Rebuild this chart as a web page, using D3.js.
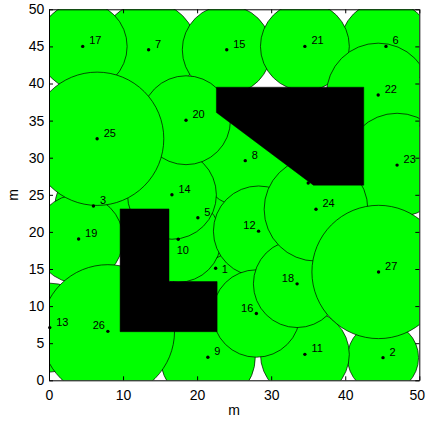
<!DOCTYPE html>
<html><head><meta charset="utf-8">
<script src="https://cdn.jsdelivr.net/npm/d3@7"></script>
<style>body{margin:0;background:#fff}text{font-family:"Liberation Sans",Arial,Helvetica,sans-serif}</style>
</head><body>
<svg id="c" width="426" height="421"></svg>
<script>
// ---- data ----
const nodeIds = [1,2,3,4,5,6,7,8,9,10,11,12,13,14,15,16,17,18,19,20,21,22,23,24,25,26,27];
const nodeX = [22.5,45.1,6.0,35.0,20.1,45.5,13.45,26.5,21.45,17.45,34.55,28.3,0.1,16.6,24.0,28.0,4.55,33.5,4.0,18.5,34.55,44.45,47.0,36.05,6.5,7.95,44.5];
const nodeY = [15.1,3.05,23.5,26.6,21.9,45.0,44.55,29.6,3.1,19.0,3.5,20.1,7.1,25.0,44.55,9.0,45.0,13.0,19.05,35.05,45.0,38.45,29.0,23.05,32.55,6.6,14.6];
const nodeRange = [6,4.8,5.2,6,6,6.2,6.5,6.3,6.4,5.8,6,6.1,6,6,6,5.9,6,5.9,6,6,6,7,7,7,9,9,9];
const obstacleL = [[9.6,23.1],[16.2,23.1],[16.2,13.3],[22.7,13.3],[22.7,6.55],[9.6,6.55]];
const obstacleQ = [[22.6,39.5],[42.5,39.5],[42.5,26.3],[35.7,26.3],[22.6,36.1]];
const xTicks = [0,10,20,30,40,50];
const yTicks = [0,5,10,15,20,25,30,35,40,45,50];
const xLabel = "m", yLabel = "m";
// label placement (style): default upper-right
const labelPlace = {10:"below", 12:"left", 16:"left", 18:"left", 26:"left", 1:"lowright"};

// ---- drawing ----
const svg = d3.select("#c");
const x = d3.scaleLinear().domain([0,50]).range([49,419.3]);
const y = d3.scaleLinear().domain([0,50]).range([380.3,9.3]);
const nodes = nodeIds.map((id,i)=>({id, x:nodeX[i], y:nodeY[i], r:nodeRange[i]}));

svg.append("defs").append("clipPath").attr("id","plotclip")
  .append("rect").attr("x",x(0)).attr("y",y(50)).attr("width",x(50)-x(0)).attr("height",y(0)-y(50));

const plot = svg.append("g").attr("clip-path","url(#plotclip)");
plot.selectAll("circle.cov").data(nodes).join("circle").attr("class","cov")
  .attr("cx",d=>x(d.x)).attr("cy",d=>y(d.y)).attr("r",d=>x(d.r)-x(0))
  .attr("fill","#00ff00").attr("stroke","#000").attr("stroke-width",0.7);

const line = d3.line().x(d=>x(d[0])).y(d=>y(d[1]));
[obstacleL, obstacleQ].forEach(p=>{
  plot.append("path").attr("d", line(p)+"Z").attr("fill","#000").attr("stroke","#000").attr("stroke-width",0.5);
});

svg.append("g").selectAll("circle").data(nodes).join("circle")
  .attr("cx",d=>x(d.x)).attr("cy",d=>y(d.y)).attr("r",1.7).attr("fill","#000");

svg.append("g").selectAll("text").data(nodes).join("text")
  .attr("font-size","11px").attr("fill","#000")
  .each(function(d){
    const t = d3.select(this).text(d.id);
    const p = labelPlace[d.id];
    const cx = x(d.x), cy = y(d.y);
    if (p==="left") t.attr("x",cx-3).attr("y",cy-2).attr("text-anchor","end");
    else if (p==="below") t.attr("x",cx-1.6).attr("y",cy+14.4);
    else if (p==="lowright") t.attr("x",cx+6).attr("y",cy+5);
    else t.attr("x",cx+6.5).attr("y",cy-2);
  });

// axes
const axes = svg.append("g");
const fs = "14px";
const gb = axes.append("g").attr("transform",`translate(0,${y(0)})`)
  .call(d3.axisBottom(x).tickValues(xTicks).tickSizeInner(-4).tickSizeOuter(0).tickPadding(9.7));
const gl = axes.append("g").attr("transform",`translate(${x(0)},0)`)
  .call(d3.axisLeft(y).tickValues(yTicks).tickSizeInner(-4).tickSizeOuter(0).tickPadding(4.7));
const gt = axes.append("g").attr("transform",`translate(0,${y(50)})`)
  .call(d3.axisTop(x).tickValues(xTicks).tickSizeInner(-4).tickSizeOuter(0).tickFormat(""));
const gr = axes.append("g").attr("transform",`translate(${x(50)},0)`)
  .call(d3.axisRight(y).tickValues(yTicks).tickSizeInner(-4).tickSizeOuter(0).tickFormat(""));
[gb,gl,gt,gr].forEach(g=>{
  g.selectAll("text").attr("font-size",fs).attr("fill","#000").style("font-family",'"Liberation Sans",Arial,sans-serif');
  g.selectAll("line").attr("stroke","#000");
  g.select(".domain").attr("stroke","#000").attr("stroke-width",1);
});
// keep the last x tick label inside the page
gb.selectAll(".tick").filter(d=>d===50).select("text").attr("dx","-2.5");

svg.append("text").attr("x",(x(0)+x(50))/2).attr("y",415).attr("text-anchor","middle")
  .attr("font-size","14px").text(xLabel);
svg.append("text").attr("transform",`translate(18.3,${(y(0)+y(50))/2}) rotate(-90)`)
  .attr("text-anchor","middle").attr("font-size","14px").text(yLabel);
</script>
</body></html>
